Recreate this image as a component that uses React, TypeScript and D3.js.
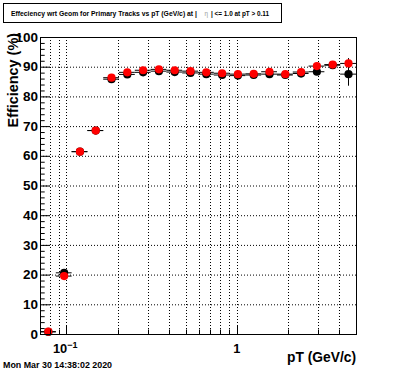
import React from "react";
import * as d3 from "d3";

// log-spaced pT bin edges (GeV/c)
const binEdges = [
  0.07, 0.0867, 0.1073, 0.1328, 0.1644, 0.2035, 0.2519, 0.3118, 0.386, 0.4778,
  0.5915, 0.7322, 0.9064, 1.122, 1.389, 1.7194, 2.1285, 2.6348, 3.2617, 4.0376, 5.0,
];

// efficiency (%) per bin
const blackEff = [
  0.7, 20.6, 61.4, 68.5, 85.8, 87.4, 88.1, 88.5, 88.2, 87.9,
  87.5, 87.2, 87.0, 87.2, 87.5, 87.2, 87.7, 88.3, 90.5, 87.5,
];
const blackErr = [
  0.3, 1.0, 0.6, 0.5, 0.4, 0.3, 0.3, 0.3, 0.3, 0.3,
  0.3, 0.3, 0.3, 0.3, 0.4, 0.4, 0.5, 0.7, 1.2, 3.9,
];
const redEff = [
  0.8, 19.5, 61.4, 68.5, 86.3, 88.1, 88.8, 89.1, 88.8, 88.5,
  88.1, 87.8, 87.5, 87.6, 88.3, 87.5, 88.2, 90.2, 90.7, 91.1,
];
const redErr = [
  0.3, 0.8, 0.6, 0.5, 0.4, 0.3, 0.3, 0.3, 0.3, 0.3,
  0.3, 0.3, 0.3, 0.3, 0.4, 0.4, 0.5, 0.7, 1.0, 1.8,
];

const yMajor = [0, 10, 20, 30, 40, 50, 60, 70, 80, 90, 100];
const xGrid = [0.08, 0.09, 0.1, 0.2, 0.3, 0.4, 0.5, 0.6, 0.7, 0.8, 0.9, 1, 2, 3, 4];
const xMajor = [0.1, 1];

const W = 396,
  H = 372;
const left = 40,
  right = 356,
  top = 37,
  bottom = 334;
const font = "'Liberation Sans', Arial, Helvetica, sans-serif";

function Series({ eff, err, color }: { eff: number[]; err: number[]; color: string }) {
  const x = d3.scaleLog().domain([0.07, 5]).range([left, right]);
  const y = d3.scaleLinear().domain([0, 100]).range([bottom, top]);
  return (
    <g>
      {eff.map((v, i) => {
        const lo = binEdges[i],
          hi = binEdges[i + 1];
        const cx = x((lo + hi) / 2);
        return (
          <g key={i}>
            <line x1={x(lo)} x2={x(hi)} y1={y(v)} y2={y(v)} stroke="#000" strokeWidth={1} />
            <line x1={cx} x2={cx} y1={y(v - err[i])} y2={y(v + err[i])} stroke="#000" strokeWidth={1} />
            <circle cx={cx} cy={y(v)} r={4.1} fill={color} />
          </g>
        );
      })}
    </g>
  );
}

export default function App() {
  const x = d3.scaleLog().domain([0.07, 5]).range([left, right]);
  const y = d3.scaleLinear().domain([0, 100]).range([bottom, top]);
  const yMinor = d3.range(0, 101, 2).filter((v) => v % 10 !== 0);

  return (
    <svg
      width={W}
      height={H}
      style={{ position: "absolute", left: 0, top: 0, background: "#fff" }}
      fontFamily={font}
    >
      <rect x={0} y={0} width={W} height={H} fill="#fff" />

      {/* title box */}
      <rect x={3.5} y={3.5} width={278} height={19} fill="#fff" stroke="#000" strokeWidth={1} />
      <text x={11} y={15.5} fontSize={6.8} fontWeight="bold">
        Effeciency wrt Geom for Primary Tracks vs pT (GeV/c) at |
      </text>
      <text x={204.5} y={15.5} fontSize={6.3} fill="#999">
        η
      </text>
      <text x={211} y={15.5} fontSize={6.4} fontWeight="bold">
        | &lt;= 1.0 at pT &gt; 0.11
      </text>

      {/* grid */}
      {yMajor
        .filter((v) => v > 0 && v < 100)
        .map((v) => (
          <line key={"gy" + v} x1={left} x2={right} y1={y(v) + 0.5} y2={y(v) + 0.5} stroke="#000" strokeDasharray="1,2" />
        ))}
      {xGrid.map((v) => (
        <line
          key={"gx" + v}
          x1={Math.round(x(v)) + 0.5}
          x2={Math.round(x(v)) + 0.5}
          y1={top}
          y2={bottom}
          stroke="#000"
          strokeDasharray="1,2"
        />
      ))}

      {/* data */}
      <Series eff={blackEff} err={blackErr} color="#000" />
      <Series eff={redEff} err={redErr} color="#f00" />

      {/* frame */}
      <rect x={left + 0.5} y={top + 0.5} width={right - left} height={bottom - top} fill="none" stroke="#000" strokeWidth={1} />

      {/* y axis ticks */}
      {yMajor.map((v) => (
        <line key={"ty" + v} x1={left} x2={left + 9.5} y1={y(v) + 0.5} y2={y(v) + 0.5} stroke="#000" />
      ))}
      {yMinor.map((v) => (
        <line key={"tym" + v} x1={left} x2={left + 4.7} y1={y(v) + 0.5} y2={y(v) + 0.5} stroke="#000" />
      ))}
      {yMajor.map((v) => (
        <text key={"ly" + v} x={38} y={y(v) + 4.6} textAnchor="end" fontSize={13.5} fontWeight="bold">
          {v}
        </text>
      ))}

      {/* x axis ticks */}
      {xGrid.map((v) => (
        <line
          key={"tx" + v}
          x1={Math.round(x(v)) + 0.5}
          x2={Math.round(x(v)) + 0.5}
          y1={bottom}
          y2={bottom - (xMajor.includes(v) ? 8.9 : 4.5)}
          stroke="#000"
        />
      ))}
      <text x={x(0.1) - 13.5} y={353} fontSize={12.8} fontWeight="bold">
        10
        <tspan dy={-5} fontSize={9}>
          −1
        </tspan>
      </text>
      <text x={x(1)} y={353} textAnchor="middle" fontSize={12.8} fontWeight="bold">
        1
      </text>

      {/* axis titles */}
      <text x={356} y={362} textAnchor="end" fontSize={13.8} fontWeight="bold">
        pT (GeV/c)
      </text>
      <text transform="translate(18,33) rotate(-90)" textAnchor="end" fontSize={14.4} fontWeight="bold">
        Efficiency (%)
      </text>

      {/* date stamp */}
      <text x={3} y={368} fontSize={8.9} fontWeight="bold">
        Mon Mar 30 14:38:02 2020
      </text>
    </svg>
  );
}
